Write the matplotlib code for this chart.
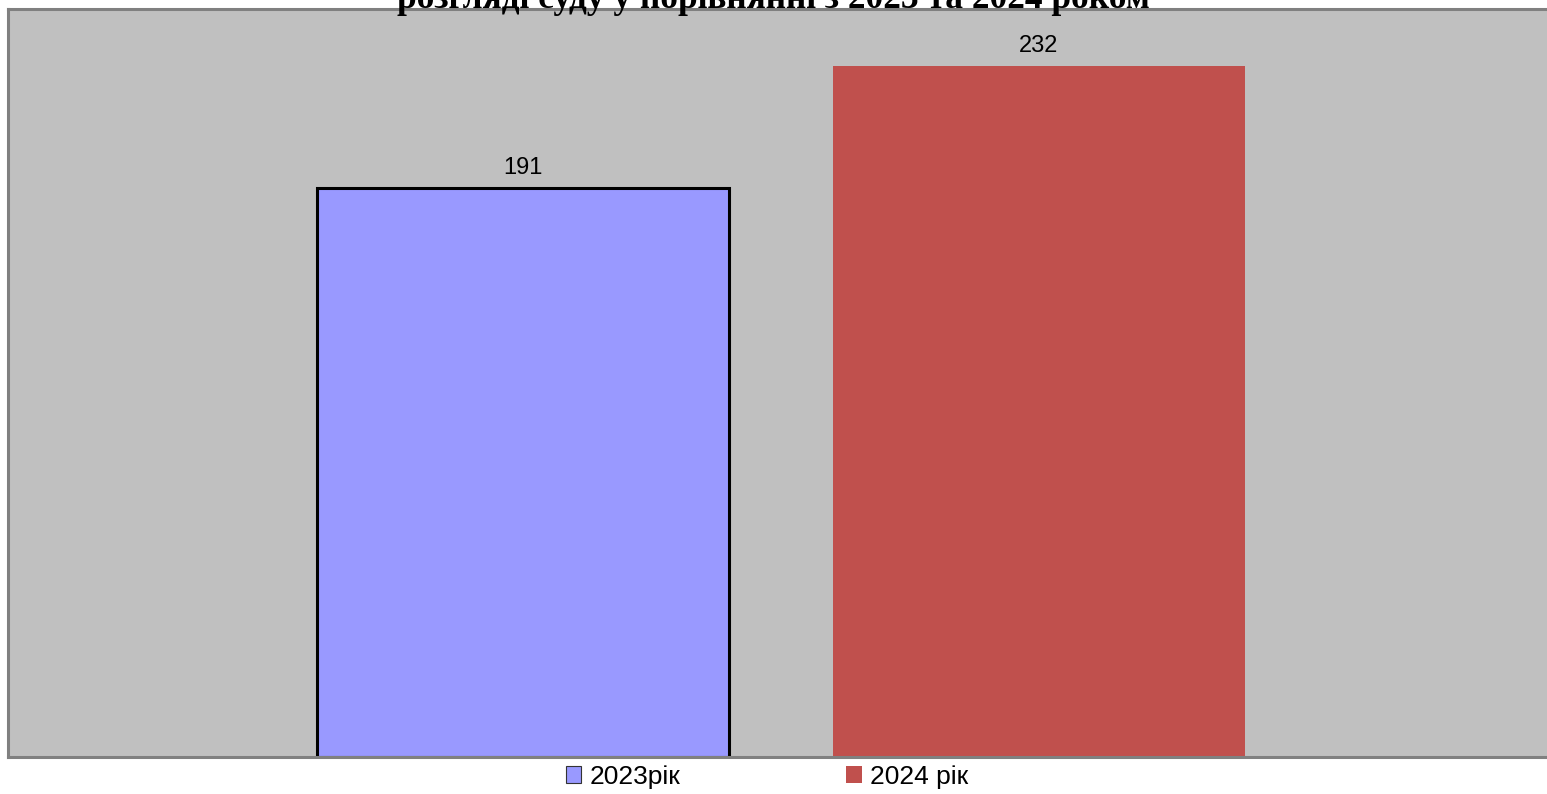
import matplotlib
matplotlib.use("Agg")
from matplotlib import pyplot as plt
from matplotlib.patches import Patch

# data
series_names = ['2023рік', '2024 рік']
values = [191, 232]
colors = ['#9999FF', '#C0504D']
title_line = 'розгляді суду у порівнянні з 2023 та 2024 роком'

W, H = 1547, 794
fig = plt.figure(figsize=(W / 100, H / 100), dpi=100)
fig.patch.set_facecolor('white')

# plot area: x 8..1554 px, y 9..757 px
ax = fig.add_axes([8 / W, 1 - 757 / H, 1546 / W, 748 / H])
ax.set_facecolor('#C0C0C0')

bars = ax.bar([0, 1], values, width=0.8, color=colors,
              edgecolor=['black', 'none'], linewidth=[2.2, 0])
for b, v in zip(bars, values):
    ax.annotate(str(v), (b.get_x() + b.get_width() / 2, v),
                xytext=(0, 6), textcoords='offset points',
                ha='center', va='bottom', fontsize=17, family='Liberation Sans')

ax.set_xlim(-1, 2)
ax.set_ylim(0, 251)
ax.set_xticks([])
ax.set_yticks([])
for s in ax.spines.values():
    s.set_color('#808080')
    s.set_linewidth(2.2)

# the title's first line sits above the picture; only the second shows, clipped
fig.text(0.5, 1 - 8 / H, title_line, ha='center', va='baseline',
         fontsize=25.5, fontweight='bold', family='Liberation Serif', zorder=5)

handles = [Patch(facecolor=colors[0], edgecolor='#333333', linewidth=0.8),
           Patch(facecolor=colors[1], edgecolor='none')]
fig.legend(handles, series_names, loc='center', ncol=2,
           bbox_to_anchor=(767 / W, 1 - 777 / H), frameon=False,
           prop={'family': 'Liberation Sans', 'size': 19},
           handlelength=0.6, handleheight=0.6, handletextpad=0.3,
           columnspacing=6.3, borderpad=0, borderaxespad=0)

fig.savefig('out.png', dpi=100)
